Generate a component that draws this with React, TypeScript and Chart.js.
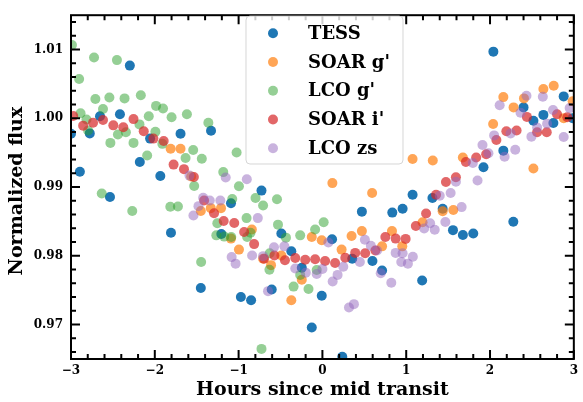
import React, { useEffect, useRef } from "react";
import { Chart, registerables } from "chart.js";

Chart.register(...registerables);

// ---- Data ----
const tessX = [-3.0, -2.894, -2.776, -2.654, -2.535, -2.416, -2.298, -2.179, -2.056, -1.934, -1.807, -1.693, -1.451, -1.329, -1.206, -1.091, -0.973, -0.851, -0.727, -0.605, -0.49, -0.371, -0.246, -0.127, -0.008, 0.115, 0.237, 0.356, 0.471, 0.597, 0.712, 0.834, 0.957, 1.076, 1.19, 1.313, 1.435, 1.558, 1.676, 1.8, 1.922, 2.04, 2.159, 2.278, 2.4, 2.518, 2.637, 2.756, 2.879, 2.986];
const tessY = [0.99776, 0.99224, 0.99781, 1.00031, 0.98856, 1.00059, 1.00767, 0.99366, 0.99705, 0.99162, 0.98336, 0.99776, 0.97533, 0.99819, 0.98318, 0.98765, 0.97402, 0.97355, 0.98949, 0.97511, 0.98326, 0.98067, 0.97826, 0.96958, 0.9742, 0.98241, 0.96534, 0.97958, 0.98643, 0.97926, 0.97788, 0.98629, 0.98686, 0.98888, 0.97642, 0.98842, 0.98686, 0.98374, 0.98304, 0.98326, 0.99289, 1.0097, 0.9953, 0.98496, 1.00159, 0.99965, 1.0005, 0.99932, 1.00319, 1.00003];

const soarGX = [-1.811, -1.693, -1.566, -1.451, -1.332, -1.21, -1.091, -0.996, -0.842, -0.708, -0.613, -0.49, -0.371, -0.246, -0.127, -0.008, 0.119, 0.229, 0.348, 0.471, 0.593, 0.712, 0.83, 0.953, 1.076, 1.195, 1.317, 1.435, 1.562, 1.676, 2.037, 2.159, 2.281, 2.405, 2.518, 2.637, 2.76, 2.879, 2.986];
const soarGY = [0.99558, 0.99558, 0.99153, 0.98652, 0.98694, 0.98694, 0.98251, 0.98091, 0.98383, 0.97958, 0.97865, 0.98006, 0.97355, 0.97652, 0.98275, 0.98227, 0.99058, 0.98091, 0.98289, 0.9836, 0.98913, 0.98138, 0.9836, 0.98138, 0.99408, 0.98488, 0.99388, 0.98648, 0.98666, 0.99431, 0.99918, 1.00309, 1.00159, 1.0029, 0.99271, 1.00428, 1.00474, 1.00003, 1.00248];

const lcoGX = [-2.989, -2.903, -2.886, -2.815, -2.796, -2.725, -2.709, -2.633, -2.618, -2.542, -2.53, -2.452, -2.44, -2.361, -2.345, -2.269, -2.254, -2.183, -2.167, -2.091, -2.072, -1.993, -1.985, -1.91, -1.902, -1.815, -1.8, -1.724, -1.633, -1.617, -1.542, -1.53, -1.447, -1.439, -1.361, -1.266, -1.254, -1.183, -1.171, -1.088, -1.076, -1.024, -0.996, -0.905, -0.898, -0.858, -0.798, -0.727, -0.708, -0.632, -0.629, -0.542, -0.53, -0.435, -0.344, -0.265, -0.265, -0.166, -0.087, -0.068, 0.015];
const lcoGY = [1.01065, 1.00573, 1.00074, 0.99983, 0.99823, 1.00885, 1.0028, 0.98907, 1.00135, 1.00304, 0.99643, 1.00847, 0.99766, 1.0029, 0.99799, 0.98652, 0.99643, 0.99912, 1.00337, 0.99459, 1.00031, 0.99805, 1.00181, 0.99629, 1.00144, 0.98714, 1.00017, 0.98719, 0.99422, 1.00059, 0.9954, 0.99016, 0.97912, 0.99412, 0.99936, 0.98298, 0.98474, 0.99218, 0.9828, 0.98275, 0.98828, 0.99502, 0.99012, 0.98549, 0.98275, 0.98336, 0.98842, 0.96647, 0.98733, 0.97798, 0.98039, 0.98822, 0.98454, 0.98265, 0.97553, 0.98298, 0.97723, 0.97519, 0.98383, 0.97794, 0.98488];

const soarIX = [-2.974, -2.855, -2.737, -2.618, -2.495, -2.376, -2.254, -2.132, -2.017, -1.894, -1.776, -1.652, -1.534, -1.412, -1.293, -1.178, -1.052, -0.934, -0.815, -0.696, -0.573, -0.447, -0.324, -0.205, -0.087, 0.032, 0.151, 0.273, 0.391, 0.51, 0.632, 0.751, 0.874, 0.993, 1.115, 1.237, 1.356, 1.474, 1.593, 1.712, 1.835, 1.954, 2.076, 2.195, 2.317, 2.44, 2.562, 2.677, 2.8, 2.922];
const soarIY = [1.00035, 0.99894, 0.99936, 0.99975, 0.99898, 0.9987, 0.99989, 0.99813, 0.99705, 0.99671, 0.99327, 0.99261, 0.99148, 0.98804, 0.98619, 0.98506, 0.98478, 0.98346, 0.98171, 0.97958, 0.98006, 0.97935, 0.97968, 0.97944, 0.9795, 0.97926, 0.97897, 0.97972, 0.98043, 0.98039, 0.98077, 0.98275, 0.98251, 0.98247, 0.98435, 0.98615, 0.98888, 0.99073, 0.99143, 0.99366, 0.99431, 0.99479, 0.99686, 0.99813, 0.99823, 1.00021, 0.99799, 0.99799, 1.00059, 1.00017];

const lcoZX = [-1.586, -1.539, -1.479, -1.423, -1.344, -1.218, -1.154, -1.083, -1.036, -0.902, -0.839, -0.771, -0.708, -0.649, -0.578, -0.454, -0.324, -0.198, -0.068, 0.0, 0.071, 0.122, 0.181, 0.249, 0.317, 0.376, 0.447, 0.507, 0.578, 0.652, 0.696, 0.822, 0.874, 0.941, 0.957, 1.02, 1.079, 1.214, 1.285, 1.34, 1.4, 1.467, 1.53, 1.593, 1.661, 1.795, 1.851, 1.91, 1.981, 2.049, 2.115, 2.174, 2.246, 2.301, 2.364, 2.435, 2.494, 2.562, 2.63, 2.681, 2.752, 2.879, 2.95];
const lcoZY = [0.99167, 0.98587, 0.98723, 0.98846, 0.98804, 0.98804, 0.99139, 0.97982, 0.97887, 0.99115, 0.98006, 0.98549, 0.97996, 0.97487, 0.98124, 0.98138, 0.97817, 0.97756, 0.97737, 0.97808, 0.98195, 0.97628, 0.97723, 0.97841, 0.9725, 0.97298, 0.97911, 0.98233, 0.98148, 0.98077, 0.97746, 0.9761, 0.98043, 0.97911, 0.98039, 0.97887, 0.97986, 0.98397, 0.98474, 0.98379, 0.98874, 0.98492, 0.98913, 0.99077, 0.98709, 0.99351, 0.99097, 0.99611, 0.99493, 0.99752, 1.00191, 0.99441, 0.99781, 0.99544, 1.00082, 1.00328, 0.99734, 0.99865, 1.00314, 0.99922, 1.0012, 0.99728, 1.00149];

const seriesNames = ["TESS", "SOAR g'", "LCO g'", "SOAR i'", "LCO zs"];
const seriesColors = [
  "rgba(31,119,180,1)",
  "rgba(255,127,14,0.7)",
  "rgba(44,160,44,0.5)",
  "rgba(214,39,40,0.7)",
  "rgba(148,103,189,0.5)",
];

const xTicks = [-3, -2, -1, 0, 1, 2, 3];
const yTicks = [0.97, 0.98, 0.99, 1.0, 1.01];
const xRange = [-3, 3];
const yRange = [0.965, 1.015];
const xTitle = "Hours since mid transit";
const yTitle = "Normalized flux";

const FONT = '"DejaVu Serif", "Liberation Serif", serif';

const pts = (xs: number[], ys: number[]) => xs.map((x, i) => ({ x, y: ys[i] }));

const framePlugin = {
  id: "frame",
  afterDraw(chart: any) {
    const { ctx, chartArea } = chart;
    const { left, right, top, bottom } = chartArea;
    const xs = chart.scales.x;
    const ys = chart.scales.y;
    ctx.save();
    ctx.strokeStyle = "#000";
    ctx.lineWidth = 2;
    ctx.lineCap = "butt";
    const major = 9;
    const minor = 5;
    for (let i = -15; i <= 15; i++) {
      const v = i / 5;
      const len = i % 5 === 0 ? major : minor;
      const px = xs.getPixelForValue(v);
      ctx.beginPath();
      ctx.moveTo(px, bottom);
      ctx.lineTo(px, bottom - len);
      ctx.moveTo(px, top);
      ctx.lineTo(px, top + len);
      ctx.stroke();
    }
    for (let i = 483; i <= 507; i++) {
      const v = i / 500;
      const len = i % 5 === 0 ? major : minor;
      const py = ys.getPixelForValue(v);
      ctx.beginPath();
      ctx.moveTo(left, py);
      ctx.lineTo(left + len, py);
      ctx.moveTo(right, py);
      ctx.lineTo(right - len, py);
      ctx.stroke();
    }
    ctx.strokeRect(left, top, right - left, bottom - top);

    // axis titles
    ctx.fillStyle = "#000";
    ctx.font = `bold 19px ${FONT}`;
    ctx.textAlign = "center";
    ctx.textBaseline = "middle";
    ctx.fillText(xTitle, (left + right) / 2, 390);
    ctx.save();
    ctx.translate(17, (top + bottom) / 2 + 4);
    ctx.rotate(-Math.PI / 2);
    ctx.fillText(yTitle, 0, 0);
    ctx.restore();

    // legend
    const lx = 246, ly = 16, lw = 157, lh = 148, r = 4;
    ctx.beginPath();
    ctx.moveTo(lx + r, ly);
    ctx.lineTo(lx + lw - r, ly);
    ctx.quadraticCurveTo(lx + lw, ly, lx + lw, ly + r);
    ctx.lineTo(lx + lw, ly + lh - r);
    ctx.quadraticCurveTo(lx + lw, ly + lh, lx + lw - r, ly + lh);
    ctx.lineTo(lx + r, ly + lh);
    ctx.quadraticCurveTo(lx, ly + lh, lx, ly + lh - r);
    ctx.lineTo(lx, ly + r);
    ctx.quadraticCurveTo(lx, ly, lx + r, ly);
    ctx.closePath();
    ctx.fillStyle = "rgba(255,255,255,0.8)";
    ctx.fill();
    ctx.strokeStyle = "rgba(204,204,204,0.8)";
    ctx.lineWidth = 1;
    ctx.stroke();

    ctx.font = `bold 18px ${FONT}`;
    ctx.textAlign = "left";
    ctx.textBaseline = "middle";
    seriesNames.forEach((name, i) => {
      const cy = 33.3 + i * 28.75;
      ctx.beginPath();
      ctx.arc(273, cy, 5, 0, Math.PI * 2);
      ctx.fillStyle = seriesColors[i];
      ctx.fill();
      ctx.fillStyle = "#000";
      ctx.fillText(name, 308, cy + 1);
    });
    ctx.restore();
  },
};

export default function App() {
  const ref = useRef<HTMLCanvasElement | null>(null);
  useEffect(() => {
    if (!ref.current) return;
    const sets = [
      pts(tessX, tessY),
      pts(soarGX, soarGY),
      pts(lcoGX, lcoGY),
      pts(soarIX, soarIY),
      pts(lcoZX, lcoZY),
    ];
    const chart = new Chart(ref.current, {
      type: "scatter",
      data: {
        datasets: sets.map((data, i) => ({
          label: seriesNames[i],
          data,
          backgroundColor: seriesColors[i],
          borderWidth: 0,
          pointRadius: 5,
          pointHoverRadius: 5,
          order: 5 - i,
        })),
      },
      options: {
        animation: false,
        responsive: true,
        maintainAspectRatio: false,
        events: [],
        layout: { padding: { top: 6, right: 6, left: 0, bottom: 0 } },
        plugins: { legend: { display: false }, tooltip: { enabled: false } },
        scales: {
          x: {
            type: "linear",
            min: xRange[0],
            max: xRange[1],
            grid: { display: false, drawTicks: false },
            border: { display: false },
            afterBuildTicks: (s: any) => {
              s.ticks = xTicks.map((v) => ({ value: v }));
            },
            afterFit: (s: any) => {
              s.height = 43;
            },
            ticks: {
              autoSkip: false,
              maxRotation: 0,
              padding: 5,
              color: "#000",
              font: { family: FONT, size: 12, weight: "bold" },
              callback: (v: any) => (v < 0 ? "\u2212" + Math.abs(v) : String(v)),
            },
          },
          y: {
            type: "linear",
            min: yRange[0],
            max: yRange[1],
            grid: { display: false, drawTicks: false },
            border: { display: false },
            afterBuildTicks: (s: any) => {
              s.ticks = yTicks.map((v) => ({ value: v }));
            },
            afterFit: (s: any) => {
              s.width = 71;
            },
            ticks: {
              autoSkip: false,
              padding: 8,
              color: "#000",
              font: { family: FONT, size: 12, weight: "bold" },
              callback: (v: any) => Number(v).toFixed(2),
            },
          },
        },
      },
      plugins: [framePlugin],
    });
    return () => chart.destroy();
  }, []);
  return (
    <div style={{ position: "fixed", left: 0, top: 0, width: 583, height: 402, background: "#fff" }}>
      <canvas ref={ref} />
    </div>
  );
}
